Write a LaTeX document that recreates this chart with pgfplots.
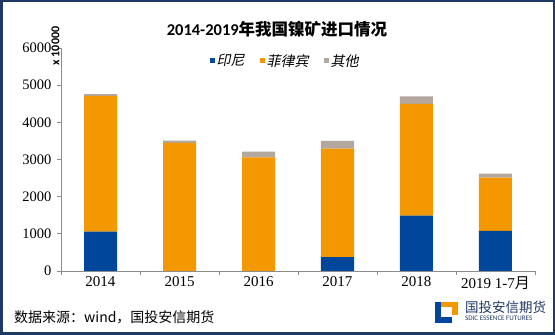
\documentclass[border=0pt]{standalone}
\usepackage{pgfplots}
\pgfplotsset{compat=1.18}
\usepackage{fontspec}
\setmainfont{Liberation Serif}
\newfontfamily\cjk{Noto Sans CJK SC}
\newfontfamily\cjki{Noto Sans CJK SC}[FakeSlant=0.2]
\newfontfamily\carl{Carlito}
\definecolor{cblue}{RGB}{0,70,155}
\definecolor{corange}{RGB}{243,152,0}
\definecolor{cgray}{RGB}{180,167,157}
\definecolor{axisgray}{RGB}{140,140,140}
\definecolor{framecol}{RGB}{31,56,100}
\begin{document}
\begin{tikzpicture}[x=1pt,y=1pt]
\useasboundingbox (0,0) rectangle (555,335);
\fill[white] (0,0) rectangle (555,335);
\begin{axis}[
  at={(61pt,64pt)}, anchor=south west,
  scale only axis, width=474pt, height=223pt,
  ybar stacked, bar width=33pt,
  xmin=-0.5, xmax=5.5, ymin=0, ymax=6000,
  ytick={0,1000,...,6000},
  xtick={-0.5,0.5,...,5.5}, xticklabels={},
  extra x ticks={0,1,2,3,4,5},
  extra x tick labels={2014,2015,2016,2017,2018,{2019 1-7{\cjk 月}}},
  extra x tick style={major tick length=0pt},
  axis lines*=left,
  axis line style={draw=axisgray, line width=0.8pt},
  every tick/.style={draw=axisgray, line width=0.8pt},
  tick align=outside, major tick length=4pt,
  /pgf/number format/assume math mode=true,
  /pgf/number format/1000 sep={},
  tick label style={font=\fontsize{15}{15}\selectfont},
  yticklabel style={font=\fontsize{14.5}{14.5}\selectfont, xshift=-2pt},
  xticklabel style={yshift=-2pt},
  legend style={at={(0.473,0.942)}, anchor=center, draw=none, fill=none,
    legend columns=-1, font=\fontsize{14}{14}\selectfont,
    /tikz/every even column/.append style={column sep=13pt}},
  mylegend/.style={legend image code/.code={\fill[##1] (0pt,-2.5pt) rectangle (5pt,2.5pt);}},
]
\addplot[fill=cblue, draw=none, mylegend] coordinates {(0,1060)(1,0)(2,0)(3,370)(4,1490)(5,1080)};
\addplot[fill=corange, draw=none, mylegend] coordinates {(0,3650)(1,3450)(2,3060)(3,2920)(4,3010)(5,1430)};
\addplot[fill=cgray, draw=none, mylegend] coordinates {(0,50)(1,60)(2,150)(3,210)(4,200)(5,110)};
\legend{{\cjki 印尼},{\cjki 菲律宾},{\cjki 其他}}
\end{axis}
% title
\node at (277,306) {\fontsize{16.5}{16.5}\selectfont\bfseries{\carl 2014-2019}{\cjk 年我国镍矿进口情况}};
% y unit label
\node[rotate=90] at (55.5,289) {\fontsize{12}{12}\selectfont\carl\bfseries x 10000};
% footer
\node[anchor=west, inner sep=0pt] at (14,18) {\fontsize{14}{14}\selectfont\cjk 数据来源：wind，国投安信期货};
% logo
\fill[cblue] (435,12) rectangle (441,33);
\fill[cblue] (435,12) rectangle (452,18);
\fill[corange] (441,28) rectangle (458,33);
\fill[corange] (452,20) rectangle (458,33);
\node[anchor=west, inner sep=0pt, text=framecol] at (465,28) {\fontsize{13.5}{13.5}\selectfont\cjk 国投安信期货};
\node[anchor=west, inner sep=0pt, text=framecol] at (465,17) {\fontsize{7}{7}\selectfont\carl SDIC ESSENCE FUTURES};
% frame
\draw[framecol, line width=2.5pt] (1.25,1.25) rectangle (553.75,333.75);
\end{tikzpicture}
\end{document}
